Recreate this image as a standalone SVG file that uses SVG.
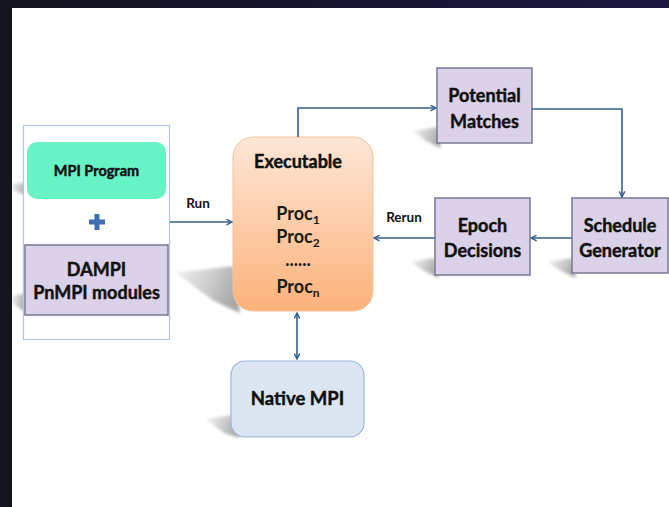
<svg xmlns="http://www.w3.org/2000/svg" width="669" height="507" viewBox="0 0 669 507">
<defs>
<linearGradient id="topbar" x1="0" y1="0" x2="1" y2="0"><stop offset="0" stop-color="#12141e"/><stop offset="1" stop-color="#1b1640"/></linearGradient>
<linearGradient id="exe" x1="0" y1="0" x2="0" y2="1"><stop offset="0" stop-color="#fde6d6"/><stop offset="1" stop-color="#fcb27a"/></linearGradient>
<linearGradient id="shd" x1="0" y1="0" x2="1" y2="0.3"><stop offset="0" stop-color="#e4e4e4" stop-opacity="0.6"/><stop offset="1" stop-color="#a9a9a9"/></linearGradient>
<filter id="blur" x="-20%" y="-20%" width="140%" height="140%"><feGaussianBlur stdDeviation="1.6"/></filter>
<marker id="ah" viewBox="0 0 10 10" refX="9" refY="5" markerWidth="7" markerHeight="7" orient="auto-start-reverse" markerUnits="userSpaceOnUse"><path d="M1,1 L9,5 L1,9" fill="none" stroke="#35608f" stroke-width="2"/></marker>
<style>
.t{font-family:Lato,"Open Sans","Liberation Sans",sans-serif;font-weight:bold;fill:#111;stroke:#111;stroke-width:0.45;text-anchor:middle}
.p{font-family:Lato,"Open Sans","Liberation Sans",sans-serif;font-weight:bold;fill:#1a1a1a;text-anchor:middle;font-size:18px}
.lbl{font-family:Lato,"Open Sans","Liberation Sans",sans-serif;font-weight:bold;fill:#111;font-size:13.5px;text-anchor:middle}
.lav{fill:#dbd1e9;stroke:#7d7f96;stroke-width:1.6}
.c{fill:none;stroke:#35608f;stroke-width:1.6}
.sh{fill:url(#shd);filter:url(#blur)}
</style>
</defs>
<rect x="0" y="0" width="669" height="507" fill="#ffffff"/>

<g id="shadows">
<polygon class="sh" points="12,184 27,182 27,196 20,193 12,190"/>
<polygon class="sh" points="12,296 25,293 25,312 12,303"/>
<polygon class="sh" points="176,273 233,266 240,313 214,301"/>
<polygon class="sh" points="206,419 233,415 240,438 224,433"/>
<polygon class="sh" points="413,131 437,127 441,148 426,141"/>
<polygon class="sh" points="411,262 435,258 439,278 424,271"/>
<polygon class="sh" points="548,262 572,258 576,278 561,271"/>
</g>

<rect x="0" y="0" width="669" height="8" fill="url(#topbar)"/>
<rect x="0" y="0" width="12" height="507" fill="#12141e"/>

<g id="container">
<rect x="23.5" y="125.5" width="146" height="214" fill="#ffffff" stroke="#b3c6e4" stroke-width="1.2"/>
</g>
<g id="mpi-program">
<rect x="27" y="142" width="139" height="57" rx="10" fill="#67f3c6"/>
<text class="t" x="96.5" y="176" font-size="14.5">MPI Program</text>
</g>
<g id="plus">
<rect x="94.5" y="214" width="5" height="16" fill="#3f6fb0"/>
<rect x="89" y="219.5" width="16" height="5" fill="#3f6fb0"/>
</g>
<g id="dampi">
<rect x="25" y="245" width="143" height="70" class="lav"/>
<text class="t" x="96.5" y="276" font-size="18">DAMPI</text>
<text class="t" x="96.5" y="299" font-size="18">PnMPI modules</text>
</g>

<g id="executable">
<rect x="233" y="137" width="140" height="174" rx="20" fill="url(#exe)" stroke="#f6c29a" stroke-width="1"/>
<text class="t" x="298" y="168" font-size="18">Executable</text>
<text class="p" x="298" y="220">Proc<tspan font-size="12" dy="4">1</tspan></text>
<text class="p" x="298" y="243">Proc<tspan font-size="12" dy="4">2</tspan></text>
<text class="p" x="298" y="266" font-size="13">......</text>
<text class="p" x="298" y="293">Proc<tspan font-size="12" dy="4">n</tspan></text>
</g>

<g id="native-mpi">
<rect x="231" y="361" width="133" height="76" rx="14" fill="#dce6f2" stroke="#9ab6da" stroke-width="1.2"/>
<text class="t" x="297.5" y="405" font-size="18.5">Native MPI</text>
</g>

<g id="potential-matches">
<rect x="437" y="68" width="95" height="75" class="lav"/>
<text class="t" x="484.5" y="102" font-size="18">Potential</text>
<text class="t" x="484.5" y="128" font-size="18">Matches</text>
</g>

<g id="epoch-decisions">
<rect x="435" y="198" width="95" height="77" class="lav"/>
<text class="t" x="482.5" y="232" font-size="18">Epoch</text>
<text class="t" x="482.5" y="257" font-size="18">Decisions</text>
</g>

<g id="schedule-generator">
<rect x="572" y="198" width="96" height="75" class="lav"/>
<text class="t" x="620" y="232" font-size="18">Schedule</text>
<text class="t" x="620" y="257" font-size="18">Generator</text>
</g>

<g id="connectors">
<line class="c" x1="170" y1="222" x2="232" y2="222" marker-end="url(#ah)"/>
<text class="lbl" x="198" y="208">Run</text>
<polyline class="c" points="298,137 298,108 436,108" marker-end="url(#ah)"/>
<polyline class="c" points="532,109 622,109 622,197" marker-end="url(#ah)"/>
<line class="c" x1="572" y1="238" x2="531" y2="238" marker-end="url(#ah)"/>
<line class="c" x1="435" y1="238" x2="374" y2="238" marker-end="url(#ah)"/>
<text class="lbl" x="404" y="222">Rerun</text>
<line class="c" x1="297" y1="313" x2="297" y2="359" marker-start="url(#ah)" marker-end="url(#ah)"/>
</g>
</svg>
